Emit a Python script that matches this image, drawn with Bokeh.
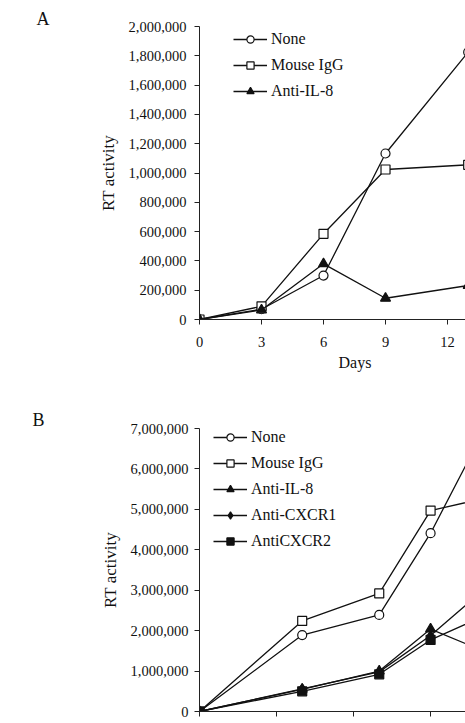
from bokeh.plotting import figure
from bokeh.layouts import column
from bokeh.models import (FixedTicker, NumeralTickFormatter, Legend, LegendItem,
                          Range1d, Title, CustomJSTickFormatter)
from bokeh.embed import file_html
from bokeh.resources import INLINE

FONT = "Liberation Serif"

# Panel A: RT activity over time
days_a = [0, 3, 6, 9, 13]
a_none = [0, 70000, 300000, 1133000, 1825000]
a_igg = [0, 90000, 585000, 1024000, 1056000]
a_il8 = [0, 65000, 380000, 145000, 232000]
a_xticks = [0, 3, 6, 9, 12]
a_yticks = list(range(0, 2000001, 200000))

# Panel B: RT activity over time, with receptor blocking
days_b = [0, 4, 7, 9, 11]
b_none = [0, 1890000, 2390000, 4410000, 6860000]
b_igg = [0, 2240000, 2920000, 4970000, 5260000]
b_il8 = [0, 550000, 1000000, 2040000, 1510000]
b_cxcr1 = [0, 560000, 980000, 1880000, 2970000]
b_cxcr2 = [0, 500000, 920000, 1770000, 2340000]
b_xticks = [0, 3, 6, 9, 12]
b_yticks = list(range(0, 7000001, 1000000))


def style(p, xticks, yticks):
    p.outline_line_color = None
    p.grid.visible = False
    p.background_fill_color = "white"
    p.border_fill_color = "white"
    for ax in (p.xaxis, p.yaxis):
        ax.axis_line_color = "#222222"
        ax.axis_line_width = 1
        ax.major_tick_line_color = "#222222"
        ax.major_tick_out = 5
        ax.major_tick_in = 0
        ax.minor_tick_line_color = None
        ax.major_label_text_font = FONT
        ax.major_label_text_font_size = "14.5px"
        ax.major_label_text_color = "#111111"
        ax.axis_label_text_font = FONT
        ax.axis_label_text_font_style = "normal"
        ax.axis_label_text_font_size = "17px"
        ax.axis_label_text_color = "#111111"
    p.xaxis.ticker = FixedTicker(ticks=xticks)
    p.yaxis.ticker = FixedTicker(ticks=yticks)
    p.yaxis.formatter = NumeralTickFormatter(format="0,0")
    p.yaxis.axis_label = "RT activity"
    p.yaxis.major_label_standoff = 8
    p.yaxis.axis_label_standoff = 8
    p.xaxis.major_label_standoff = 12


def series(p, x, y, marker, fill, size):
    r1 = p.line(x, y, line_color="#111111", line_width=1.3)
    r2 = p.scatter(x, y, marker=marker, size=size, line_color="#111111",
                   line_width=1.2, fill_color=fill)
    return [r1, r2]


def add_legend(p, items, loc):
    lg = Legend(items=items, location=loc, orientation="vertical",
                background_fill_alpha=0, border_line_color=None,
                padding=0, margin=0, spacing=8, glyph_width=34,
                glyph_height=18, label_height=18, label_standoff=4,
                label_text_font=FONT, label_text_font_size="16px",
                label_text_color="#111111")
    p.add_layout(lg)


def side_title(p, text, size, offset, place, standoff=0):
    t = Title(text=text, align="left", offset=offset, standoff=standoff,
              text_font=FONT, text_font_size=size, text_font_style="normal",
              text_color="#111111")
    p.add_layout(t, place)


# ---- Panel A ----
pa = figure(width=465, height=380, output_backend="svg", toolbar_location=None,
            x_range=Range1d(0, 12.87), y_range=Range1d(0, 2000000),
            min_border_left=196, min_border_right=0, min_border_top=26,
            min_border_bottom=61)
style(pa, a_xticks, a_yticks)
ra1 = series(pa, days_a, a_none, "circle", "white", 9)
ra2 = series(pa, days_a, a_igg, "square", "white", 9)
ra3 = series(pa, days_a, a_il8, "triangle", "#111111", 10)
add_legend(pa, [LegendItem(label="None", renderers=ra1),
                LegendItem(label="Mouse IgG", renderers=ra2),
                LegendItem(label="Anti-IL-8", renderers=ra3)], (34, 219))
side_title(pa, "A", "18px", -163, "above", standoff=-4)
side_title(pa, "Days", "16px", 139, "below", standoff=4)

# ---- Panel B ----
pb = figure(width=465, height=343, output_backend="svg", toolbar_location=None,
            x_range=Range1d(0, 10.36), y_range=Range1d(0, 7000000),
            min_border_left=199, min_border_right=0, min_border_top=48,
            min_border_bottom=12)
style(pb, b_xticks, b_yticks)
pb.yaxis.major_label_standoff = 6
# day labels of this axis fall below the page, so they are left blank
pb.xaxis.formatter = CustomJSTickFormatter(code="return ''")
pb.xaxis.major_label_standoff = 0
rb1 = series(pb, days_b, b_none, "circle", "white", 9)
rb2 = series(pb, days_b, b_igg, "square", "white", 9)
rb3 = series(pb, days_b, b_il8, "triangle", "#111111", 10)
rb4 = series(pb, days_b, b_cxcr1, "diamond", "#111111", 10)
rb5 = series(pb, days_b, b_cxcr2, "square", "#111111", 9)
add_legend(pb, [LegendItem(label="None", renderers=rb1),
                LegendItem(label="Mouse IgG", renderers=rb2),
                LegendItem(label="Anti-IL-8", renderers=rb3),
                LegendItem(label="Anti-CXCR1", renderers=rb4),
                LegendItem(label="AntiCXCR2", renderers=rb5)], (14, 161))
side_title(pb, "B", "18px", -167, "above", standoff=-3)

layout = column(pa, pb, spacing=0)
open("out.html", "w").write(file_html(layout, INLINE))
